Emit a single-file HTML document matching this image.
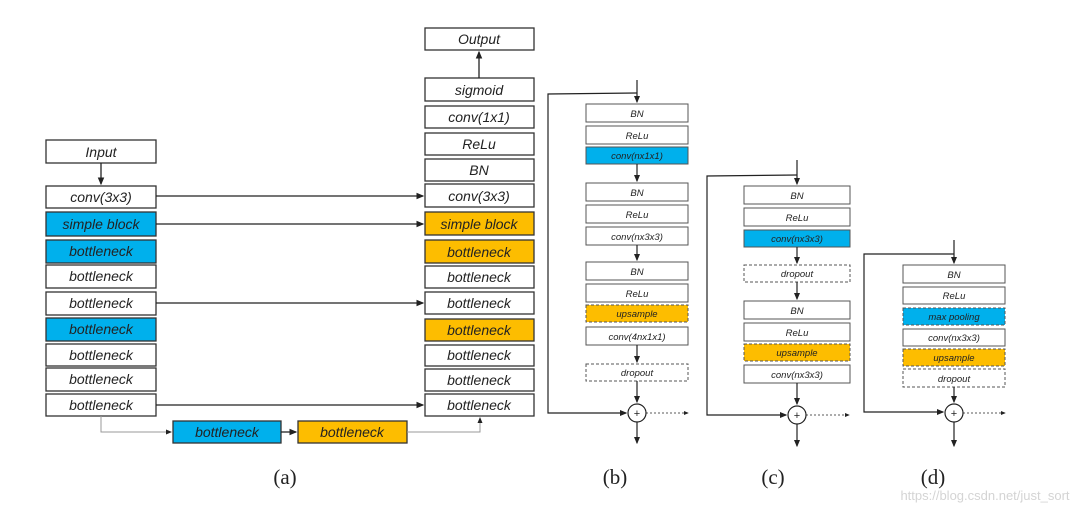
<!DOCTYPE html>
<html><head><meta charset="utf-8"><style>
html,body{margin:0;padding:0;background:#fff;width:1080px;height:510px;overflow:hidden}
text{font-family:"Liberation Sans",sans-serif;font-style:italic;fill:#222}
.b text{font-size:14px}
.s text{font-size:9.5px}
.lab{font-family:"Liberation Serif",serif;font-style:normal;font-size:21px;fill:#222}
</style></head><body>
<svg width="1080" height="510" viewBox="0 0 1080 510" xmlns="http://www.w3.org/2000/svg">
<defs><marker id="a" markerWidth="6" markerHeight="6" refX="5" refY="3" orient="auto"><path d="M0,0.5 L6,3 L0,5.5z" fill="#222"/></marker></defs>
<g class="b" stroke-width="1.3">
<!-- left column -->
<g stroke="#333">
<rect x="46" y="140" width="110" height="23" fill="#fff"/>
<rect x="46" y="186" width="110" height="22" fill="#fff"/>
<rect x="46" y="212" width="110" height="24" fill="#00b0ec"/>
<rect x="46" y="240" width="110" height="23" fill="#00b0ec"/>
<rect x="46" y="265" width="110" height="23" fill="#fff"/>
<rect x="46" y="292" width="110" height="23" fill="#fff"/>
<rect x="46" y="318" width="110" height="23" fill="#00b0ec"/>
<rect x="46" y="344" width="110" height="22" fill="#fff"/>
<rect x="46" y="368" width="110" height="23" fill="#fff"/>
<rect x="46" y="394" width="110" height="22" fill="#fff"/>
<rect x="173" y="421" width="108" height="22" fill="#00b0ec"/>
<rect x="298" y="421" width="109" height="22" fill="#fdbd00"/>
<!-- right column -->
<rect x="425" y="28" width="109" height="22" fill="#fff"/>
<rect x="425" y="78" width="109" height="23" fill="#fff"/>
<rect x="425" y="106" width="109" height="22" fill="#fff"/>
<rect x="425" y="133" width="109" height="22" fill="#fff"/>
<rect x="425" y="159" width="109" height="22" fill="#fff"/>
<rect x="425" y="184" width="109" height="23" fill="#fff"/>
<rect x="425" y="212" width="109" height="23" fill="#fdbd00"/>
<rect x="425" y="240" width="109" height="23" fill="#fdbd00"/>
<rect x="425" y="266" width="109" height="22" fill="#fff"/>
<rect x="425" y="292" width="109" height="22" fill="#fff"/>
<rect x="425" y="319" width="109" height="22" fill="#fdbd00"/>
<rect x="425" y="345" width="109" height="21" fill="#fff"/>
<rect x="425" y="369" width="109" height="22" fill="#fff"/>
<rect x="425" y="394" width="109" height="22" fill="#fff"/>
</g>
<g text-anchor="middle">
<text x="101" y="157">Input</text>
<text x="101" y="202">conv(3x3)</text>
<text x="101" y="229">simple block</text>
<text x="101" y="256">bottleneck</text>
<text x="101" y="281">bottleneck</text>
<text x="101" y="308">bottleneck</text>
<text x="101" y="334">bottleneck</text>
<text x="101" y="360">bottleneck</text>
<text x="101" y="384">bottleneck</text>
<text x="101" y="410">bottleneck</text>
<text x="227" y="437">bottleneck</text>
<text x="352" y="437">bottleneck</text>
<text x="479" y="44">Output</text>
<text x="479" y="95">sigmoid</text>
<text x="479" y="122">conv(1x1)</text>
<text x="479" y="149">ReLu</text>
<text x="479" y="175">BN</text>
<text x="479" y="201">conv(3x3)</text>
<text x="479" y="229">simple block</text>
<text x="479" y="257">bottleneck</text>
<text x="479" y="282">bottleneck</text>
<text x="479" y="308">bottleneck</text>
<text x="479" y="335">bottleneck</text>
<text x="479" y="360">bottleneck</text>
<text x="479" y="385">bottleneck</text>
<text x="479" y="410">bottleneck</text>
</g>
</g>
<g stroke="#222" stroke-width="1.3" fill="none">
<line x1="101" y1="163" x2="101" y2="184" marker-end="url(#a)"/>
<line x1="156" y1="196" x2="423" y2="196" marker-end="url(#a)"/>
<line x1="156" y1="224" x2="423" y2="224" marker-end="url(#a)"/>
<line x1="156" y1="303" x2="423" y2="303" marker-end="url(#a)"/>
<line x1="156" y1="405" x2="423" y2="405" marker-end="url(#a)"/>
<line x1="479" y1="78" x2="479" y2="52" marker-end="url(#a)"/>
<line x1="281" y1="432" x2="296" y2="432" marker-end="url(#a)"/>
<polyline stroke="#999" stroke-width="1" points="101,416 101,432 171,432" marker-end="url(#a)"/>
<polyline stroke="#999" stroke-width="1" points="407,432 480,432 480,418" marker-end="url(#a)"/>
</g>

<!-- panel b -->
<g class="s" stroke-width="1">
<g stroke="#555">
<rect x="586" y="104" width="102" height="18" fill="#fff"/>
<rect x="586" y="126" width="102" height="18" fill="#fff"/>
<rect x="586" y="147" width="102" height="17" fill="#00b0ec"/>
<rect x="586" y="183" width="102" height="18" fill="#fff"/>
<rect x="586" y="205" width="102" height="18" fill="#fff"/>
<rect x="586" y="227" width="102" height="18" fill="#fff"/>
<rect x="586" y="262" width="102" height="18" fill="#fff"/>
<rect x="586" y="284" width="102" height="18" fill="#fff"/>
<rect x="586" y="305" width="102" height="17" fill="#fdbd00" stroke-dasharray="3,2"/>
<rect x="586" y="327" width="102" height="18" fill="#fff"/>
<rect x="586" y="364" width="102" height="17" fill="#fff" stroke-dasharray="3,2"/>
<!-- c -->
<rect x="744" y="186" width="106" height="18" fill="#fff"/>
<rect x="744" y="208" width="106" height="18" fill="#fff"/>
<rect x="744" y="230" width="106" height="17" fill="#00b0ec"/>
<rect x="744" y="265" width="106" height="17" fill="#fff" stroke-dasharray="3,2"/>
<rect x="744" y="301" width="106" height="18" fill="#fff"/>
<rect x="744" y="323" width="106" height="18" fill="#fff"/>
<rect x="744" y="344" width="106" height="17" fill="#fdbd00" stroke-dasharray="3,2"/>
<rect x="744" y="365" width="106" height="18" fill="#fff"/>
<!-- d -->
<rect x="903" y="265" width="102" height="18" fill="#fff"/>
<rect x="903" y="287" width="102" height="17" fill="#fff"/>
<rect x="903" y="308" width="102" height="17" fill="#00b0ec" stroke-dasharray="3,2"/>
<rect x="903" y="329" width="102" height="17" fill="#fff"/>
<rect x="903" y="349" width="102" height="17" fill="#fdbd00" stroke-dasharray="3,2"/>
<rect x="903" y="369" width="102" height="18" fill="#fff" stroke-dasharray="3,2"/>
</g>
<g text-anchor="middle">
<text x="637" y="117">BN</text><text x="637" y="139">ReLu</text><text x="637" y="159">conv(nx1x1)</text>
<text x="637" y="196">BN</text><text x="637" y="218">ReLu</text><text x="637" y="240">conv(nx3x3)</text>
<text x="637" y="275">BN</text><text x="637" y="297">ReLu</text><text x="637" y="317">upsample</text>
<text x="637" y="340">conv(4nx1x1)</text><text x="637" y="376">dropout</text>
<text x="797" y="199">BN</text><text x="797" y="221">ReLu</text><text x="797" y="242">conv(nx3x3)</text>
<text x="797" y="277">dropout</text><text x="797" y="314">BN</text><text x="797" y="336">ReLu</text>
<text x="797" y="356">upsample</text><text x="797" y="378">conv(nx3x3)</text>
<text x="954" y="278">BN</text><text x="954" y="299">ReLu</text><text x="954" y="320">max pooling</text>
<text x="954" y="341">conv(nx3x3)</text><text x="954" y="361">upsample</text><text x="954" y="382">dropout</text>
</g>
</g>
<g stroke="#222" stroke-width="1.2" fill="none">
<!-- b -->
<line x1="637" y1="80" x2="637" y2="102" marker-end="url(#a)"/>
<polyline points="637,93 548,94 548,413 626,413" marker-end="url(#a)"/>
<line x1="637" y1="164" x2="637" y2="181" marker-end="url(#a)"/>
<line x1="637" y1="245" x2="637" y2="260" marker-end="url(#a)"/>
<line x1="637" y1="345" x2="637" y2="362" marker-end="url(#a)"/>
<line x1="637" y1="381" x2="637" y2="402" marker-end="url(#a)"/>
<circle cx="637" cy="413" r="9" fill="#fff"/>
<line x1="637" y1="422" x2="637" y2="443" marker-end="url(#a)"/>
<line x1="646" y1="413" x2="688" y2="413" stroke-dasharray="2,2" stroke-width="0.8" marker-end="url(#a)"/>
<!-- c -->
<line x1="797" y1="160" x2="797" y2="184" marker-end="url(#a)"/>
<polyline points="797,175 707,176 707,415 786,415" marker-end="url(#a)"/>
<line x1="797" y1="247" x2="797" y2="263" marker-end="url(#a)"/>
<line x1="797" y1="282" x2="797" y2="299" marker-end="url(#a)"/>
<line x1="797" y1="383" x2="797" y2="404" marker-end="url(#a)"/>
<circle cx="797" cy="415" r="9" fill="#fff"/>
<line x1="797" y1="424" x2="797" y2="446" marker-end="url(#a)"/>
<line x1="806" y1="415" x2="849" y2="415" stroke-dasharray="2,2" stroke-width="0.8" marker-end="url(#a)"/>
<!-- d -->
<line x1="954" y1="240" x2="954" y2="263" marker-end="url(#a)"/>
<polyline points="954,254 864,254 864,412 943,412" marker-end="url(#a)"/>
<line x1="954" y1="387" x2="954" y2="402" marker-end="url(#a)"/>
<circle cx="954" cy="413" r="9" fill="#fff"/>
<line x1="954" y1="422" x2="954" y2="446" marker-end="url(#a)"/>
<line x1="963" y1="413" x2="1005" y2="413" stroke-dasharray="2,2" stroke-width="0.8" marker-end="url(#a)"/>
</g>
<g text-anchor="middle" font-size="11" style="font-style:normal">
<text x="637" y="417" style="font-style:normal">+</text>
<text x="797" y="419" style="font-style:normal">+</text>
<text x="954" y="417" style="font-style:normal">+</text>
</g>
<g text-anchor="middle">
<text class="lab" x="285" y="484">(a)</text>
<text class="lab" x="615" y="484">(b)</text>
<text class="lab" x="773" y="484">(c)</text>
<text class="lab" x="933" y="484">(d)</text>
</g>
<text x="985" y="500" text-anchor="middle" style="font-style:normal;font-size:13px;fill:#d4d4d4">https://blog.csdn.net/just_sort</text>
</svg>
</body></html>
